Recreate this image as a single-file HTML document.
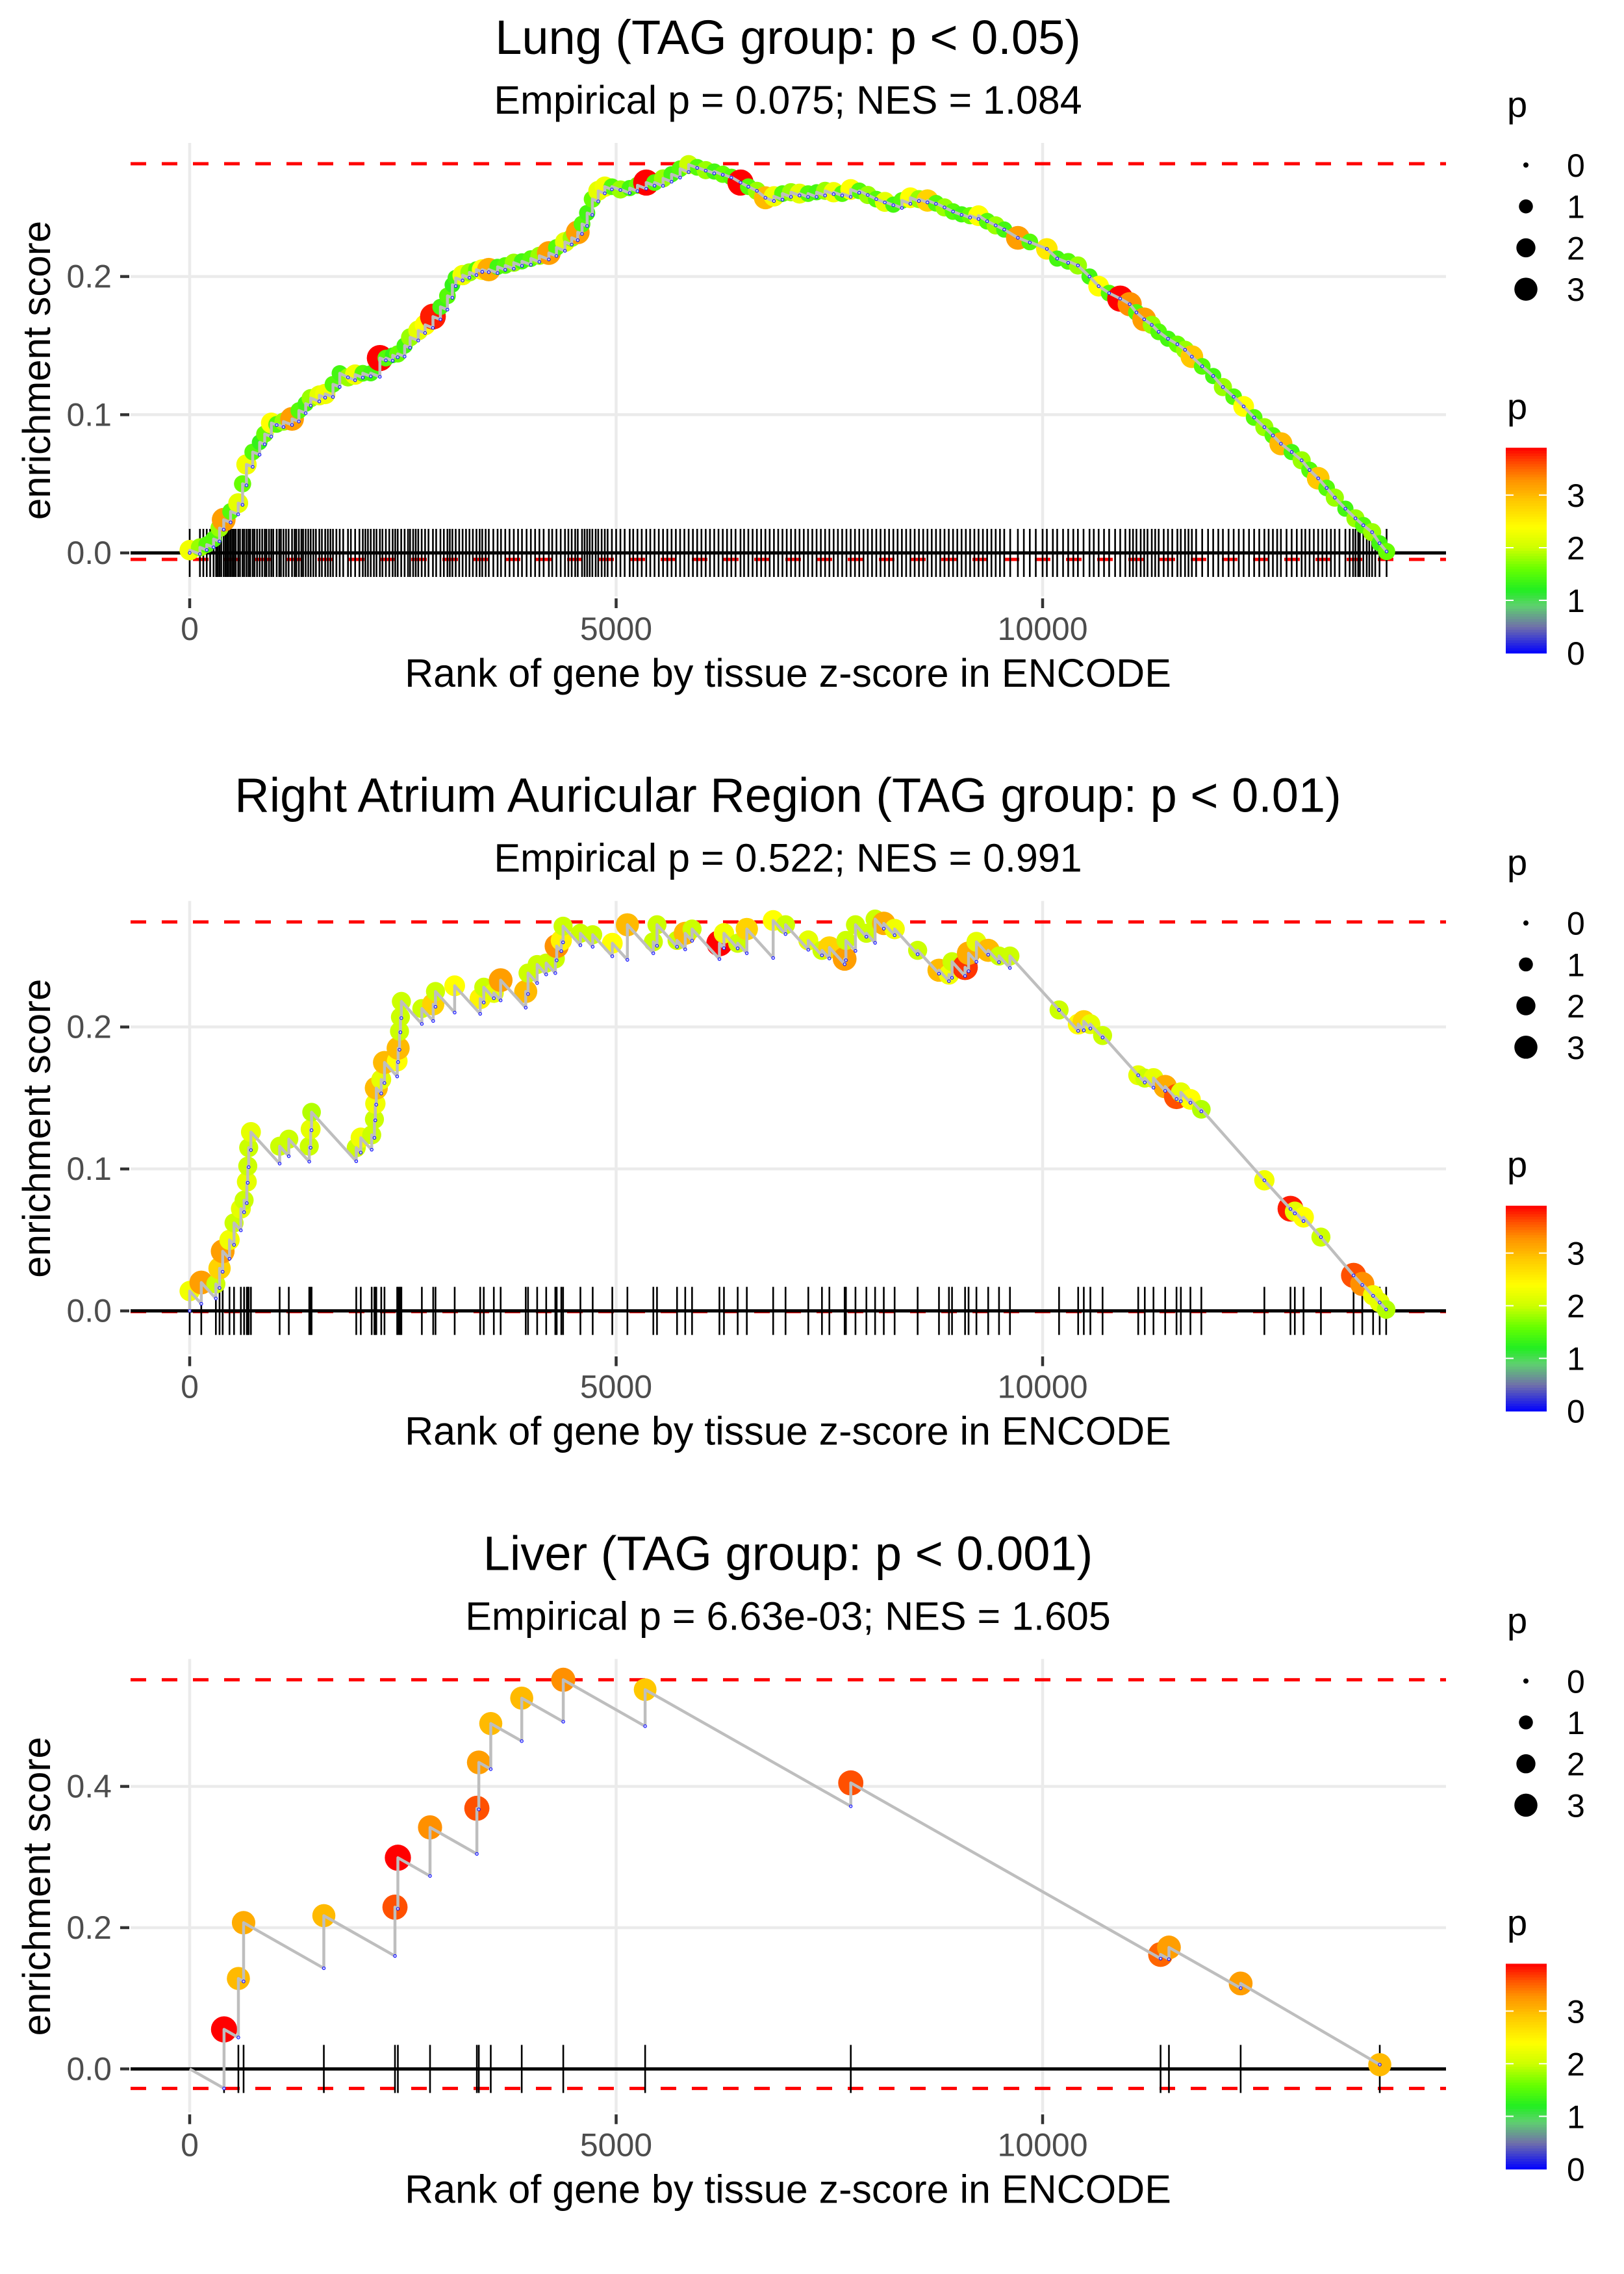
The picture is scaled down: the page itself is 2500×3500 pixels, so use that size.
<!DOCTYPE html>
<html><head><meta charset="utf-8"><style>
html,body{margin:0;padding:0;background:#fff;}
svg{display:block;font-family:"Liberation Sans",Arial,sans-serif;}
</style></head><body>
<svg id="chart" width="2500" height="3500" viewBox="0 0 2500 3500" xmlns="http://www.w3.org/2000/svg">
<rect x="0" y="0" width="2500" height="3500" fill="#ffffff"/>
</svg>
<script>
// ---------------- data ----------------
const titles = ["Lung (TAG group: p < 0.05)", "Right Atrium Auricular Region (TAG group: p < 0.01)", "Liver (TAG group: p < 0.001)"];
const subtitles = ["Empirical p = 0.075; NES = 1.084", "Empirical p = 0.522; NES = 0.991", "Empirical p = 6.63e-03; NES = 1.605"];
const xTickValues = [0, 5000, 10000];
const xTickLabels = ["0", "5000", "10000"];
const yTickValues1 = [0, 0.1, 0.2];
const yTickLabels1 = ["0.0", "0.1", "0.2"];
const yTickValues2 = [0, 0.1, 0.2];
const yTickLabels2 = ["0.0", "0.1", "0.2"];
const yTickValues3 = [0, 0.2, 0.4];
const yTickLabels3 = ["0.0", "0.2", "0.4"];
const sizeLegendValues = [0, 1, 2, 3];
const colorLegendValues = [0, 1, 2, 3];
const esMax = [0.2816, 0.274, 0.551];
const esMin = [-0.0047, -0.0005, -0.0276];
const missSteps = [0.000024, 0.000066, 0.0000685];

const ranks1 = [0,120,200,280,350,399,480,569,620,666,739,820,880,957,1020,1100,1200,1280,1360,1419,1520,1589,1680,1759,1856,1940,2030,2123,2230,2300,2380,2439,2520,2584,2680,2760,2852,2940,3022,3080,3119,3200,3280,3362,3430,3507,3610,3700,3800,3896,4000,4100,4211,4300,4400,4479,4550,4600,4660,4721,4790,4867,4950,5050,5159,5250,5353,5450,5550,5650,5750,5850,5950,6050,6150,6250,6350,6458,6550,6650,6750,6850,6950,7050,7150,7250,7350,7450,7550,7650,7750,7850,7950,8050,8150,8250,8350,8450,8550,8650,8750,8850,8950,9050,9150,9249,9350,9450,9550,9710,9850,10050,10171,10300,10414,10550,10657,10780,10910,11021,11100,11191,11280,11361,11470,11580,11670,11750,11871,12000,12114,12240,12357,12480,12600,12700,12794,12920,13037,13130,13231,13330,13426,13550,13668,13760,13863,13950,14033];
const es1 = [0.002,0.004,0.006,0.010,0.018,0.024,0.030,0.036,0.050,0.064,0.073,0.080,0.086,0.094,0.093,0.095,0.097,0.103,0.108,0.112,0.114,0.115,0.122,0.130,0.127,0.129,0.130,0.130,0.141,0.141,0.143,0.144,0.150,0.156,0.161,0.165,0.171,0.178,0.186,0.194,0.199,0.201,0.203,0.205,0.205,0.205,0.207,0.208,0.210,0.211,0.213,0.215,0.217,0.221,0.225,0.228,0.232,0.238,0.246,0.256,0.262,0.265,0.265,0.263,0.264,0.266,0.268,0.268,0.271,0.274,0.278,0.281,0.279,0.277,0.276,0.274,0.272,0.268,0.265,0.262,0.257,0.258,0.260,0.261,0.260,0.260,0.261,0.262,0.261,0.260,0.263,0.262,0.259,0.256,0.254,0.252,0.255,0.257,0.256,0.255,0.253,0.250,0.247,0.245,0.244,0.244,0.240,0.237,0.234,0.228,0.225,0.220,0.213,0.211,0.208,0.200,0.193,0.188,0.184,0.180,0.174,0.169,0.165,0.160,0.155,0.151,0.147,0.142,0.135,0.128,0.120,0.113,0.106,0.098,0.091,0.085,0.079,0.073,0.067,0.060,0.054,0.047,0.040,0.032,0.025,0.020,0.015,0.007,0.001];
const p1 = [2.3,1.8,1.5,1.5,1.8,3.2,1.5,2.2,1.6,2.3, 1.5,1.3,1.6,2.4,1.5,1.8,3.2,1.5,1.4,1.8, 2.2,2.3,1.5,1.4,1.8,2.3,1.5,1.4,3.9,1.5, 1.3,1.6,1.4,1.8,2.2,2.4,3.8,1.4,1.5,1.3, 1.4,2.3,1.8,1.5,2.4,3.1,1.4,1.5,1.8,1.4, 1.5,1.8,3.2,1.5,2.2,1.8,3.2,1.5,1.4,1.6, 2.2,2.3,1.5,1.8,1.4,1.6,3.9,1.5,1.8,1.4, 1.5,2.0,1.5,1.8,1.4,1.6,1.5,3.9,1.5,1.8, 3.0,2.3,1.5,1.8,2.2,1.5,1.4,1.8,2.3,1.5, 2.4,1.5,1.8,1.5,2.2,1.4,1.5,2.4,1.8,2.8, 1.5,1.8,1.5,1.4,1.6,2.4,1.5,1.8,1.4,3.2, 1.5,2.6,1.4,1.5,1.8,1.4,2.4,1.5,3.9,3.3, 1.5,3.2,1.8,1.5,1.4,1.6,1.8,2.9,1.5,1.4, 1.8,1.5,2.4,1.5,1.8,1.5,3.0,1.4,1.8,1.5, 2.9,1.5,1.8,1.4,1.8,1.5,1.8,1.4,1.6];
const extraTicks1 = [160,240,310,330,370,420,440,460,500,520,540,590,640,690,710,760,790,850,900,930,980,1050,1070,1130,1160,1230,1250,1310,1330,1390,1450,1480,1550,1620,1650,1720,1800,1890,1990,2060,2090,2160,2190,2260,2340,2410,2480,2560,2620,2650,2720,2800,2890,2980,3050,3160,3240,3320,3400,3470,3560,3650,3750,3850,3950,4050,4150,4250,4350,4440,4520,4630,4690,4760,4830,4900,5000,5100,5200,5300,5400,5500,5600,5700,5800,5900,6000,6100,6200,6300,6400,6500,6600,6700,6800,6900,7000,7100,7200,7300,7400,7500,7600,7700,7800,7900,8000,8100,8200,8300,8400,8500,8600,8700,8800,8900,9000,9100,9200,9300,9400,9500,9620,9780,9920,10000,10120,10240,10360,10480,10600,10720,10850,10970,11060,11150,11230,11320,11420,11520,11620,11710,11800,11940,12060,12180,12300,12420,12540,12650,12750,12860,12980,13080,13180,13280,13380,13480,13600,13640,13700,13720,13800,13830,13900];

const ranks2 = [0,136,307,350,387,467,520,600,638,670,681,692,718,1055,1162,1402,1418,1429,1953,2006,2134,2166,2177,2188,2246,2284,2433,2444,2460,2471,2482,2722,2855,2882,3107,3406,3448,3566,3646,3940,3967,4074,4180,4287,4303,4357,4378,4581,4725,4955,5132,5436,5479,5714,5810,5890,6211,6264,6425,6532,6841,6986,7253,7413,7500,7679,7694,7806,7934,8036,8138,8265,8535,8785,8902,8938,9091,9132,9224,9362,9489,9617,10193,10417,10483,10560,10703,11121,11198,11300,11437,11570,11621,11733,11861,12600,12906,12957,13059,13263,13646,13748,13875,13952,14028];
const es2 = [0.014,0.020,0.019,0.030,0.042,0.050,0.062,0.072,0.078,0.091,0.102,0.115,0.126,0.116,0.121,0.116,0.128,0.140,0.115,0.122,0.124,0.135,0.146,0.157,0.163,0.175,0.176,0.185,0.197,0.207,0.218,0.213,0.216,0.225,0.229,0.220,0.228,0.224,0.233,0.225,0.238,0.244,0.245,0.248,0.257,0.261,0.271,0.266,0.265,0.259,0.272,0.260,0.272,0.261,0.266,0.269,0.259,0.266,0.259,0.269,0.275,0.272,0.261,0.254,0.256,0.248,0.261,0.272,0.266,0.276,0.273,0.269,0.254,0.240,0.237,0.246,0.242,0.252,0.260,0.254,0.250,0.250,0.212,0.202,0.204,0.202,0.194,0.166,0.164,0.164,0.158,0.151,0.154,0.149,0.142,0.092,0.072,0.070,0.066,0.052,0.025,0.019,0.011,0.006,0.001];
const p2 = [2.3,3.2,2.0,2.8,3.2,2.3,2.0,2.2,2.0,2.2,2.0,2.0,2.2,2.0,2.0,2.0,2.2,1.9,2.0,2.3,2.0,2.0,2.3,3.0,2.2,3.0,2.4,3.0,2.0,2.0,2.0,2.0,2.8,2.0,2.4,2.5,2.0,2.2,3.2,3.0,2.0,2.0,2.0,2.0,3.3,2.5,2.0,2.0,2.0,2.4,3.0,2.0,2.0,2.0,3.0,2.0,3.9,2.3,2.0,2.8,2.4,2.0,2.2,2.0,2.8,3.2,2.0,2.0,2.0,2.0,3.1,2.3,2.0,3.0,2.3,2.0,3.7,3.1,2.2,3.0,2.0,2.0,2.0,2.4,2.8,2.2,2.0,2.2,2.0,2.2,3.1,3.6,2.2,2.4,1.9,2.3,3.8,2.2,2.4,2.0,3.6,3.3,2.3,2.2,1.9];

const ranks3 = [403,571,632,1573,2407,2441,2818,3367,3390,3530,3893,4380,5340,7751,11383,11481,12322,13953];
const es3 = [0.056,0.128,0.207,0.217,0.229,0.299,0.342,0.369,0.434,0.489,0.525,0.551,0.537,0.405,0.162,0.172,0.121,0.006];
const p3 = [3.9,3.0,3.1,3.0,3.6,3.9,3.3,3.6,3.2,3.0,3.0,3.3,2.9,3.6,3.5,3.2,3.2,3.0];

// ---------------- layout ----------------
const NS = "http://www.w3.org/2000/svg";
const svg = document.getElementById('chart');
const PANEL_DY = 1166.67;
const X0 = 292, XK = 0.1313;
const PLOT_L = 201, PLOT_R = 2226;
const CX = 1213;
const panelCfg = [
  {y0: 851, k: 2127},
  {y0: 851 + PANEL_DY, k: 2185},
  {y0: 851 + 2 * PANEL_DY, k: 1087}
];
const colorStops = [[0,[0,0,255]],[0.5,[112,112,170]],[0.9,[95,208,111]],[1.2,[34,238,34]],[1.6,[102,255,0]],[2.0,[204,255,0]],[2.4,[255,255,0]],[2.9,[255,200,0]],[3.3,[255,144,0]],[3.6,[255,80,0]],[3.9,[255,0,0]]];

function colorFor(p) {
  if (p <= colorStops[0][0]) return 'rgb(' + colorStops[0][1].join(',') + ')';
  for (let i = 1; i < colorStops.length; i++) {
    if (p <= colorStops[i][0]) {
      const a = colorStops[i-1], b = colorStops[i];
      const t = (p - a[0]) / (b[0] - a[0]);
      const c = a[1].map((v, j) => Math.round(v + (b[1][j] - v) * t));
      return 'rgb(' + c.join(',') + ')';
    }
  }
  return 'rgb(255,0,0)';
}
function radiusFor(p) { return Math.sqrt(16 + 100 * Math.max(0, p)); }
function mk(tag, attrs, parent) {
  const e = document.createElementNS(NS, tag);
  for (const k in attrs) e.setAttribute(k, attrs[k]);
  (parent || svg).appendChild(e);
  return e;
}
function txt(str, attrs, parent) {
  const e = mk('text', attrs, parent);
  e.textContent = str;
  return e;
}
const xs = r => X0 + r * XK;

function drawPanel(i, ranks, es, ps, ticks, yVals, yLabs) {
  const off = i * PANEL_DY;
  const cfg = panelCfg[i];
  const ys = v => cfg.y0 - v * cfg.k;
  const g = mk('g', {});
  
  
  const top = 220 + off, bot = 918 + off;

  yVals.forEach((v, j) => {
    const l = mk('line', {x1: PLOT_L, x2: PLOT_R, y1: ys(v), y2: ys(v), stroke: '#ebebeb', 'stroke-width': 4.5}, g);
    
    
  });
  xTickValues.forEach(v => {
    const l = mk('line', {x1: xs(v), x2: xs(v), y1: top, y2: bot, stroke: '#ebebeb', 'stroke-width': 4.5}, g);
    
    
  });
  [esMax[i], esMin[i]].forEach((v, j) => {
    const l = mk('line', {x1: PLOT_L, x2: PLOT_R, y1: ys(v), y2: ys(v), stroke: '#ff0000', 'stroke-width': 5, 'stroke-dasharray': '24 24'}, g);
    
    
  });
  const z = mk('line', {x1: PLOT_L, x2: PLOT_R, y1: ys(0), y2: ys(0), stroke: '#000', 'stroke-width': 5}, g);
  
  
  const tg = mk('g', {}, g);
  
  
  ticks.forEach(r => {
    const l = mk('line', {x1: xs(r), x2: xs(r), y1: ys(0) - 37, y2: ys(0) + 37, stroke: '#000', 'stroke-width': 2.6}, tg);
    
    
  });
  const pts = [[0, 0]];
  const pre = [];
  let pr = 0, pe = 0;
  ranks.forEach((r, j) => {
    let b = pe - missSteps[i] * (r - pr);
    if (b > es[j]) b = es[j];
    pts.push([r, b]); pts.push([r, es[j]]);
    pre.push([r, b]);
    pr = r; pe = es[j];
  });
  const dg = mk('g', {}, g);
  
  
  ranks.forEach((r, j) => {
    const p = ps[j] === undefined ? 1.5 : ps[j];
    const c = mk('circle', {cx: xs(r), cy: ys(es[j]), r: radiusFor(p), fill: colorFor(p)}, dg);
    
    
  });
  const pl = mk('polyline', {points: pts.map(q => xs(q[0]).toFixed(1) + ',' + ys(q[1]).toFixed(1)).join(' '), fill: 'none', stroke: '#bebebe', 'stroke-width': 4.5, 'stroke-linejoin': 'round'}, g);
  
  
  pre.forEach(q => {
    const c = mk('circle', {cx: xs(q[0]), cy: ys(q[1]), r: 2.2, fill: '#c8c8ff', stroke: '#0000ff', 'stroke-width': 1}, g);
    
    
  });
  yVals.forEach((v, j) => {
    const t = mk('line', {x1: 185, x2: 199, y1: ys(v), y2: ys(v), stroke: '#333', 'stroke-width': 4.5}, g);
    
    
    const l = txt(yLabs[j], {x: 172, y: ys(v) + 17, 'font-size': 50, fill: '#4d4d4d', 'text-anchor': 'end'}, g);
    
    
  });
  xTickValues.forEach((v, j) => {
    const t = mk('line', {x1: xs(v), x2: xs(v), y1: 921 + off, y2: 936 + off, stroke: '#333', 'stroke-width': 4.5}, g);
    
    
    const l = txt(xTickLabels[j], {x: xs(v), y: 985 + off, 'font-size': 50, fill: '#4d4d4d', 'text-anchor': 'middle'}, g);
    
    
  });
  const t1 = txt(titles[i], {x: CX, y: 83 + off, 'font-size': 74, fill: '#000', 'text-anchor': 'middle'}, g);
  
  
  const t2 = txt(subtitles[i], {x: CX, y: 175 + off, 'font-size': 61, fill: '#000', 'text-anchor': 'middle'}, g);
  
  
  const xt = txt('Rank of gene by tissue z-score in ENCODE', {x: CX, y: 1057 + off, 'font-size': 61, fill: '#000', 'text-anchor': 'middle'}, g);
  
  
  const yt = txt('enrichment score', {x: 0, y: 0, 'font-size': 60, fill: '#000', 'text-anchor': 'middle', transform: 'translate(77,' + (570 + off) + ') rotate(-90)'}, g);
  
  

  const sl = mk('g', {}, g);
  
  
  const sp = txt('p', {x: 2320, y: 180 + off, 'font-size': 56, fill: '#000'}, sl);
  
  
  sizeLegendValues.forEach((v, j) => {
    const cy = 254 + j * 63.7 + off;
    const c = mk('circle', {cx: 2349, cy: cy, r: radiusFor(v), fill: '#000'}, sl);
    
    
    const l = txt(String(v), {x: 2412, y: cy + 18, 'font-size': 50, fill: '#000'}, sl);
    
    
  });
  const cl = mk('g', {}, g);
  
  
  const cp = txt('p', {x: 2320, y: 645 + off, 'font-size': 56, fill: '#000'}, cl);
  
  
  const cb0 = 1005 + off, cbk = 81, cbMax = 3.9;
  for (let s = 0; s < 78; s++) {
    const v0 = cbMax * s / 78, v1 = cbMax * (s + 1) / 78;
    const r = mk('rect', {x: 2318, y: cb0 - v1 * cbk, width: 63, height: (v1 - v0) * cbk + 0.8, fill: colorFor((v0 + v1) / 2)}, cl);
    
    
  }
  colorLegendValues.forEach(v => {
    const yy = cb0 - v * cbk;
    if (v > 0) {
      const a = mk('line', {x1: 2318, x2: 2330, y1: yy, y2: yy, stroke: '#fff', 'stroke-width': 2}, cl);
      
      
      const b = mk('line', {x1: 2369, x2: 2381, y1: yy, y2: yy, stroke: '#fff', 'stroke-width': 2}, cl);
      
      
    }
    const l = txt(String(v), {x: 2412, y: yy + 18, 'font-size': 50, fill: '#000'}, cl);
    
    
  });
}

drawPanel(0, ranks1, es1, p1, ranks1.concat(extraTicks1), yTickValues1, yTickLabels1);
drawPanel(1, ranks2, es2, p2, ranks2, yTickValues2, yTickLabels2);
drawPanel(2, ranks3, es3, p3, ranks3, yTickValues3, yTickLabels3);
</script>
</body></html>
